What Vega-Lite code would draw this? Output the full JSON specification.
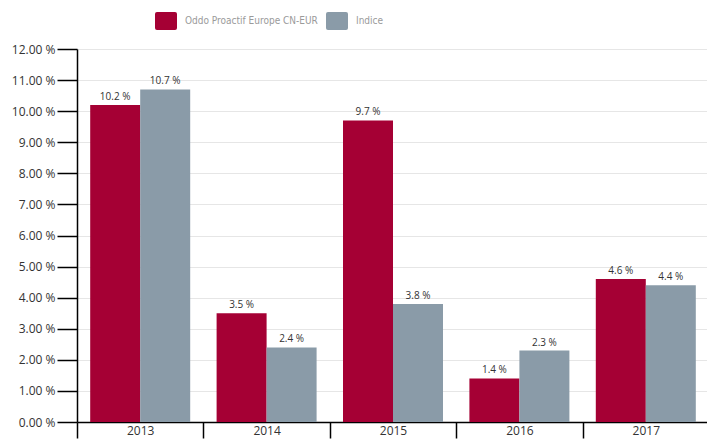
{
  "$schema": "https://vega.github.io/schema/vega-lite/v6.json",
  "autosize": "none",
  "width": 632,
  "height": 373,
  "padding": {"left": 77, "top": 49, "right": 0, "bottom": 17},
  "background": "white",
  "data": {"values": [
    {"year": "2013", "serie": "Oddo Proactif Europe CN-EUR", "value": 10.2},
    {"year": "2013", "serie": "Indice", "value": 10.7},
    {"year": "2014", "serie": "Oddo Proactif Europe CN-EUR", "value": 3.5},
    {"year": "2014", "serie": "Indice", "value": 2.4},
    {"year": "2015", "serie": "Oddo Proactif Europe CN-EUR", "value": 9.7},
    {"year": "2015", "serie": "Indice", "value": 3.8},
    {"year": "2016", "serie": "Oddo Proactif Europe CN-EUR", "value": 1.4},
    {"year": "2016", "serie": "Indice", "value": 2.3},
    {"year": "2017", "serie": "Oddo Proactif Europe CN-EUR", "value": 4.6},
    {"year": "2017", "serie": "Indice", "value": 4.4}
  ]},
  "encoding": {
    "x": {"field": "year", "type": "nominal", "title": null,
      "scale": {"paddingInner": 0, "paddingOuter": 0},
      "axis": {"tickBand": "extent", "labelAngle": 0, "domainColor": "#000", "domainWidth": 1.5,
        "tickColor": "#000", "tickWidth": 1.5, "tickSize": 16, "labelPadding": -13, "labelBaseline": "top",
        "labelFont": "Open Sans", "labelFontSize": 12, "labelColor": "#333", "grid": false}},
    "xOffset": {"field": "serie", "type": "nominal", "sort": ["Oddo Proactif Europe CN-EUR", "Indice"],
      "scale": {"paddingInner": 0, "paddingOuter": 0.264}},
    "y": {"field": "value", "type": "quantitative", "title": null,
      "scale": {"domain": [0, 12], "nice": false},
      "axis": {"values": [0,1,2,3,4,5,6,7,8,9,10,11,12],
        "labelExpr": "format(datum.value, '.2f') + ' %'",
        "domainColor": "#000", "domainWidth": 1.5, "tickColor": "#000", "tickWidth": 1.5, "tickSize": 20,
        "labelPadding": 2, "labelFont": "Open Sans", "labelFontSize": 12, "labelColor": "#333",
        "gridColor": "#e6e6e6", "gridWidth": 1}}
  },
  "layer": [
    {"mark": {"type": "bar"},
      "encoding": {
        "color": {"field": "serie", "type": "nominal", "sort": ["Oddo Proactif Europe CN-EUR", "Indice"],
          "scale": {"range": ["#A50034", "#8A9BA8"]},
          "legend": {"title": null, "orient": "none", "direction": "horizontal", "legendX": 79, "legendY": -38,
            "symbolType": "M-1.1,-0.7 Q-1.1,-0.9 -0.9,-0.9 L0.9,-0.9 Q1.1,-0.9 1.1,-0.7 L1.1,0.7 Q1.1,0.9 0.9,0.9 L-0.9,0.9 Q-1.1,0.9 -1.1,0.7 Z",
            "symbolSize": 400, "symbolStrokeWidth": 0, "symbolOpacity": 1,
            "labelFont": "DejaVu Sans Condensed", "labelFontSize": 10, "labelLimit": 300, "labelColor": "#9a9a9a",
            "labelOffset": 9, "columnPadding": 8}}
      }},
    {"transform": [{"calculate": "format(datum.value, '.1f') + ' %'", "as": "label"}],
      "mark": {"type": "text", "baseline": "bottom", "dy": -3, "font": "Open Sans", "fontSize": 10, "color": "#333"},
      "encoding": {"text": {"field": "label", "type": "nominal"},
        "detail": {"field": "serie"}}}
  ],
  "config": {"view": {"stroke": null}}
}
